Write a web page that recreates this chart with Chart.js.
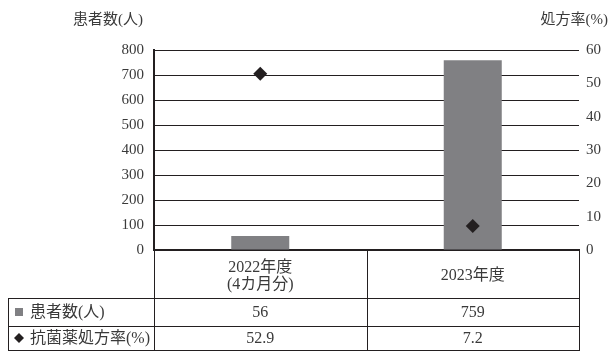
<!DOCTYPE html>
<html>
<head>
<meta charset="utf-8">
<script src="https://cdn.jsdelivr.net/npm/chart.js@4"></script>
<style>
  html, body { margin: 0; padding: 0; background: #fff; }
  #wrap { width: 609px; height: 351px; }
</style>
</head>
<body>
<div id="wrap"><canvas id="antibioticChart"></canvas></div>
<script>
// ==========================================
// 患者数 / 抗菌薬処方率 (Chart.js)
// ==========================================

const categories = [['2022年度', '(4カ月分)'], ['2023年度']];
const patientCounts = [56, 759];
const prescriptionRates = [52.9, 7.2];
const patientLabels = ['56', '759'];
const rateLabels = ['52.9', '7.2'];
const rowNames = ['患者数(人)', '抗菌薬処方率(%)'];
const axisTitles = ['患者数(人)', '処方率(%)'];

const FONT = '"Liberation Serif", "Noto Sans CJK JP", serif';
const TEXT = '#3a3a3a';
const LINE = '#231f20';

// axis titles + data table under the plot
const tablePlugin = {
  id: 'dataTable',
  afterDraw(chart) {
    const ctx = chart.ctx;
    const area = chart.chartArea;
    const x = chart.scales.x;
    const left = area.left;
    const right = area.right;
    const mid = (x.getPixelForValue(0) + x.getPixelForValue(1)) / 2;
    const tableLeft = 8;
    const top = area.bottom;
    const row1 = 298;
    const row2 = 326;
    const bottom = 350;

    ctx.save();
    // axis titles
    ctx.fillStyle = TEXT;
    ctx.font = '15px ' + FONT;
    ctx.textBaseline = 'middle';
    ctx.textAlign = 'right';
    ctx.fillText(axisTitles[0], 143, 20);
    ctx.fillText(axisTitles[1], 608, 20);

    // grid of the table
    ctx.strokeStyle = LINE;
    ctx.lineWidth = 1;
    ctx.beginPath();
    [left, mid, right].forEach(function (px) {
      ctx.moveTo(Math.round(px) + 0.5, top);
      ctx.lineTo(Math.round(px) + 0.5, bottom);
    });
    ctx.moveTo(tableLeft + 0.5, row1);
    ctx.lineTo(tableLeft + 0.5, bottom);
    [row1, row2, bottom].forEach(function (py) {
      ctx.moveTo(tableLeft, py + 0.5);
      ctx.lineTo(Math.round(right) + 1, py + 0.5);
    });
    ctx.stroke();

    // header cells
    ctx.textAlign = 'center';
    ctx.font = '16px ' + FONT;
    categories.forEach(function (lines, i) {
      const cx = i === 0 ? (left + mid) / 2 : (mid + right) / 2;
      const cy = (top + row1) / 2 + 2;
      const h = 17;
      lines.forEach(function (t, j) {
        ctx.fillText(t, cx, cy + (j - (lines.length - 1) / 2) * h);
      });
    });

    // row labels
    ctx.textAlign = 'left';
    ctx.fillStyle = '#808083';
    ctx.fillRect(15, (row1 + row2) / 2 - 4, 8, 8);
    ctx.fillStyle = LINE;
    const dy = (row2 + bottom) / 2;
    ctx.beginPath();
    ctx.moveTo(19, dy - 5);
    ctx.lineTo(24, dy);
    ctx.lineTo(19, dy + 5);
    ctx.lineTo(14, dy);
    ctx.closePath();
    ctx.fill();
    ctx.fillStyle = TEXT;
    ctx.fillText(rowNames[0], 30, (row1 + row2) / 2 + 1);
    ctx.fillText(rowNames[1], 30, dy + 1);

    // values
    ctx.textAlign = 'center';
    [0, 1].forEach(function (i) {
      const cx = i === 0 ? (left + mid) / 2 : (mid + right) / 2;
      ctx.fillText(patientLabels[i], cx, (row1 + row2) / 2 + 1);
      ctx.fillText(rateLabels[i], cx, dy + 1);
    });
    ctx.restore();
  },
};

const chartData = {
  labels: categories,
  datasets: [
    {
      type: 'scatter',
      label: '抗菌薬処方率(%)',
      data: prescriptionRates,
      yAxisID: 'y1',
      pointStyle: 'rectRot',
      pointRadius: 7,
      pointHoverRadius: 7,
      backgroundColor: LINE,
      borderColor: LINE,
      borderWidth: 0,
      showLine: false,
    },
    {
      type: 'bar',
      label: '患者数(人)',
      data: patientCounts,
      yAxisID: 'y',
      backgroundColor: '#808083',
      borderWidth: 0,
      barPercentage: 0.273,
      categoryPercentage: 1,
    },
  ],
};

const chartConfig = {
  data: chartData,
  plugins: [tablePlugin],
  options: {
    responsive: true,
    maintainAspectRatio: false,
    animation: false,
    layout: { padding: { top: 50, bottom: 101, left: 0, right: 0 } },
    plugins: {
      legend: { display: false },
      tooltip: { enabled: false },
    },
    scales: {
      x: {
        type: 'category',
        offset: true,
        grid: { display: false, drawTicks: false },
        ticks: { display: false },
        border: { display: true, color: LINE, width: 2 },
        afterFit: function (scale) {
          scale.height = 0;
        },
      },
      y: {
        position: 'left',
        min: 0,
        max: 800,
        ticks: {
          stepSize: 100,
          padding: 10,
          color: TEXT,
          font: { family: FONT, size: 15 },
        },
        grid: { color: LINE, lineWidth: 1, drawTicks: false },
        border: { display: true, color: LINE, width: 2 },
        afterFit: function (scale) {
          scale.width = 154;
        },
      },
      y1: {
        position: 'right',
        min: 0,
        max: 60,
        ticks: {
          stepSize: 10,
          padding: 7,
          color: TEXT,
          font: { family: FONT, size: 15 },
        },
        grid: { display: false, drawTicks: false },
        border: { display: false },
        afterFit: function (scale) {
          scale.width = 30;
        },
      },
    },
  },
};

const antibioticChart = new Chart(
  document.getElementById('antibioticChart'),
  chartConfig
);
</script>
</body>
</html>
